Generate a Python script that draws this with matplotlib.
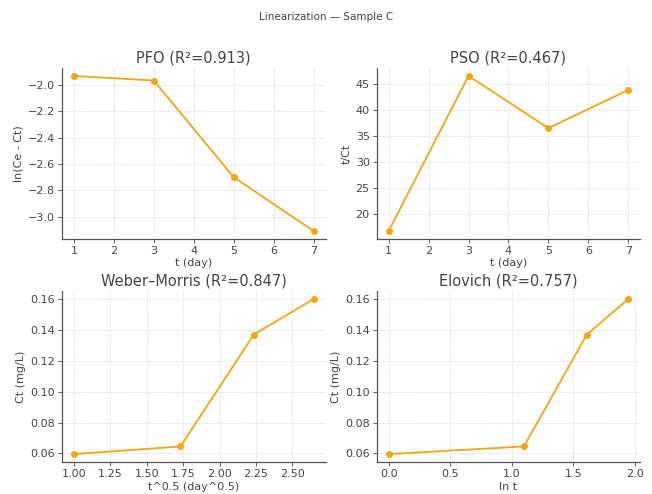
import matplotlib
matplotlib.use("Agg")
import matplotlib.pyplot as plt
from matplotlib.ticker import MultipleLocator, FormatStrFormatter

t_day = [1, 3, 5, 7]
pfo_y = [-1.93, -1.965, -2.70, -3.11]
pso_y = [16.8, 46.5, 36.5, 43.8]
wm_x = [1.0, 1.732, 2.236, 2.646]
ct = [0.0595, 0.0645, 0.137, 0.160]
elo_x = [0.0, 1.099, 1.609, 1.946]

panels = [
    ("PFO (R²=0.913)", t_day, pfo_y, "t (day)", "ln(Ce - Ct)"),
    ("PSO (R²=0.467)", t_day, pso_y, "t (day)", "t/Ct"),
    ("Weber–Morris (R²=0.847)", wm_x, ct, "t^0.5 (day^0.5)", "Ct (mg/L)"),
    ("Elovich (R²=0.757)", elo_x, ct, "ln t", "Ct (mg/L)"),
]

color = "#F2A614"
txt = "#444444"

fig, axes = plt.subplots(2, 2, figsize=(6.52, 4.94), dpi=100)
fig.subplots_adjust(left=0.095, right=0.982, top=0.862, bottom=0.065,
                    wspace=0.194, hspace=0.308)
fig.suptitle("Linearization — Sample C", fontsize=7.5, color=txt, y=0.975)

for ax, (title, x, y, xl, yl) in zip(axes.flat, panels):
    ax.plot(x, y, color=color, marker="o", markersize=4, linewidth=1.3)
    ax.set_title(title, fontsize=10.5, color=txt, pad=4)
    ax.set_xlabel(xl, fontsize=8, color=txt, labelpad=2)
    ax.set_ylabel(yl, fontsize=8, color=txt, labelpad=3)
    ax.grid(True, linestyle=":", color="#d0d0d0", linewidth=0.7)
    ax.set_axisbelow(True)
    for s in ("top", "right"):
        ax.spines[s].set_visible(False)
    for s in ("left", "bottom"):
        ax.spines[s].set_color("#555555")
        ax.spines[s].set_linewidth(0.9)
    ax.tick_params(labelsize=8, colors=txt, length=3, width=0.6, pad=2)

axes[1, 0].xaxis.set_major_locator(MultipleLocator(0.25))
axes[1, 0].xaxis.set_major_formatter(FormatStrFormatter("%.2f"))

fig.savefig("out.png", dpi=100)
